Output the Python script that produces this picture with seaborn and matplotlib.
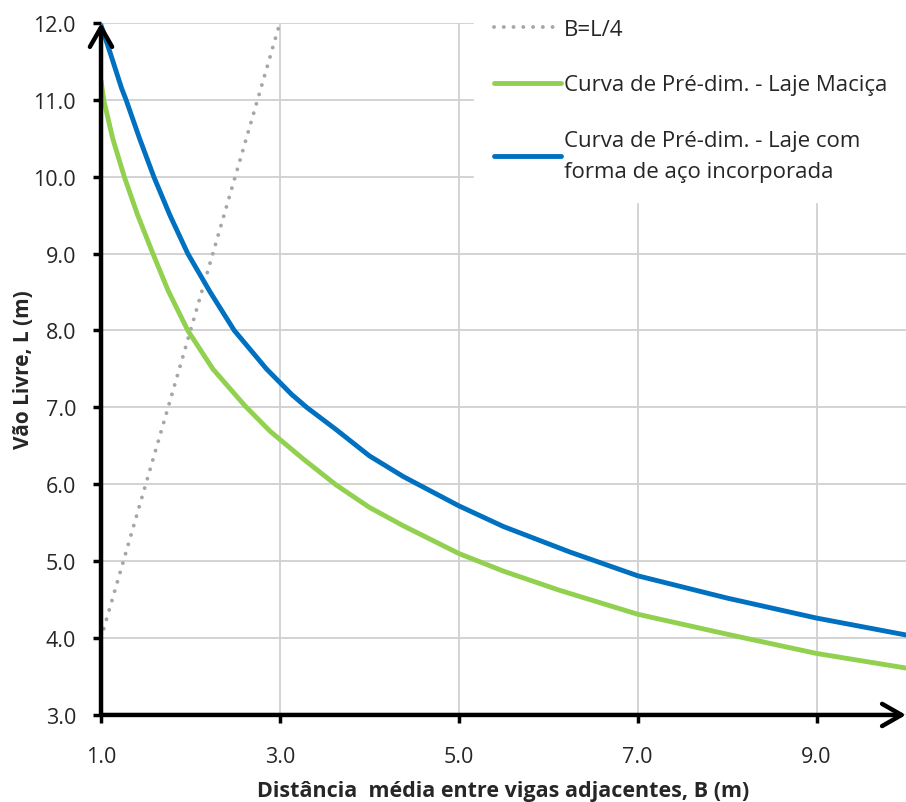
import matplotlib
matplotlib.use('Agg')
import matplotlib.pyplot as plt
import seaborn as sns

# Curva de pré-dimensionamento - laje maciça: B (m) x L (m)
b_macica = [1.0, 1.03, 1.13, 1.26, 1.41, 1.58, 1.75, 1.97, 2.25, 2.61, 2.89, 3.26,
            3.63, 4.0, 4.38, 5.0, 5.5, 6.13, 7.0, 8.0, 9.0, 10.0]
l_macica = [11.25, 11.0, 10.5, 10.0, 9.5, 9.0, 8.52, 8.0, 7.5, 7.02, 6.69, 6.33,
            5.99, 5.70, 5.46, 5.10, 4.87, 4.62, 4.31, 4.05, 3.80, 3.61]
# Curva de pré-dimensionamento - laje com forma de aço incorporada
b_deck = [1.0, 1.1, 1.23, 1.28, 1.43, 1.59, 1.77, 1.97, 2.22, 2.49, 2.85, 3.13, 3.3,
          3.63, 4.0, 4.38, 5.0, 5.5, 6.24, 7.0, 8.0, 9.0, 10.0]
l_deck = [11.97, 11.62, 11.15, 11.0, 10.5, 10.0, 9.5, 9.0, 8.5, 8.0, 7.5, 7.17, 7.0,
          6.71, 6.37, 6.10, 5.72, 5.45, 5.12, 4.81, 4.52, 4.26, 4.04]
# reta B = L/4
reta_b = [1.0, 3.0]
reta_l = [4.0, 12.0]

labels = ['B=L/4',
          'Curva de Pré-dim. - Laje Maciça',
          'Curva de Pré-dim. - Laje com\nforma de aço incorporada']
x_ticks = [1, 3, 5, 7, 9]
y_ticks = [3, 4, 5, 6, 7, 8, 9, 10, 11, 12]

sns.set_style('white')
plt.rcParams['font.family'] = ['Open Sans', 'DejaVu Sans']

fig = plt.figure(figsize=(9.06, 8.03), dpi=100)
ax = fig.add_axes([0.1115, 0.1084, 0.8885, 0.8618])

# curvas
sns.lineplot(x=reta_b, y=reta_l, ax=ax, color='#a6a6a6', lw=2.8,
             linestyle=(0, (0.01, 2.5)), dash_capstyle='round', label=labels[0])
sns.lineplot(x=b_macica, y=l_macica, ax=ax, color='#92d050', lw=3.5, label=labels[1])
sns.lineplot(x=b_deck, y=l_deck, ax=ax, color='#0070c0', lw=3.5, label=labels[2])

ax.set_xlim(1, 10)
ax.set_ylim(3, 12)
ax.set_xticks(x_ticks)
ax.set_yticks(y_ticks)
ax.set_xticklabels([f'{v:.1f}' for v in x_ticks])
ax.set_yticklabels([f'{v:.1f}' for v in y_ticks])
ax.grid(True, color='#d0d0d0', lw=1.3)
ax.set_axisbelow(True)

for s in ax.spines.values():
    s.set_visible(False)
ax.tick_params(bottom=True, left=True, direction='out', length=6, width=2.5,
               color='k', labelsize=15.5, labelcolor='#262626')
ax.tick_params(axis='x', pad=16)
ax.tick_params(axis='y', pad=12)

# eixos com setas
arrow = dict(arrowstyle='->,head_length=0.7,head_width=0.4', lw=3.2, color='k',
             shrinkA=0, shrinkB=0, mutation_scale=20)
ax.annotate('', xy=(0, 1), xytext=(0, 0), xycoords='axes fraction',
            arrowprops=arrow, annotation_clip=False)
ax.annotate('', xy=(1, 0), xytext=(0, 0), xycoords='axes fraction',
            arrowprops=arrow, annotation_clip=False)

ax.set_xlabel('Distância  média entre vigas adjacentes, B (m)', fontsize=15.5,
              fontweight='bold', color='#262626')
ax.set_ylabel('Vão Livre, L (m)', fontsize=15, fontweight='bold', color='#262626')
ax.xaxis.set_label_coords(0.5, -0.094)
ax.yaxis.set_label_coords(-0.083, 0.5)

leg = ax.legend(loc='upper left', bbox_to_anchor=(474 / 906, 0, 432 / 906, 1.0),
                bbox_transform=fig.transFigure, mode='expand', fontsize=16,
                frameon=True, facecolor='white', edgecolor='white', framealpha=1,
                fancybox=False, borderpad=0.9, handlelength=3.0, handletextpad=0.15,
                labelspacing=1.55, borderaxespad=0)
for t in leg.get_texts():
    t.set_color('#262626')
    t.set_linespacing(1.65)

fig.savefig('out.png', dpi=100)
